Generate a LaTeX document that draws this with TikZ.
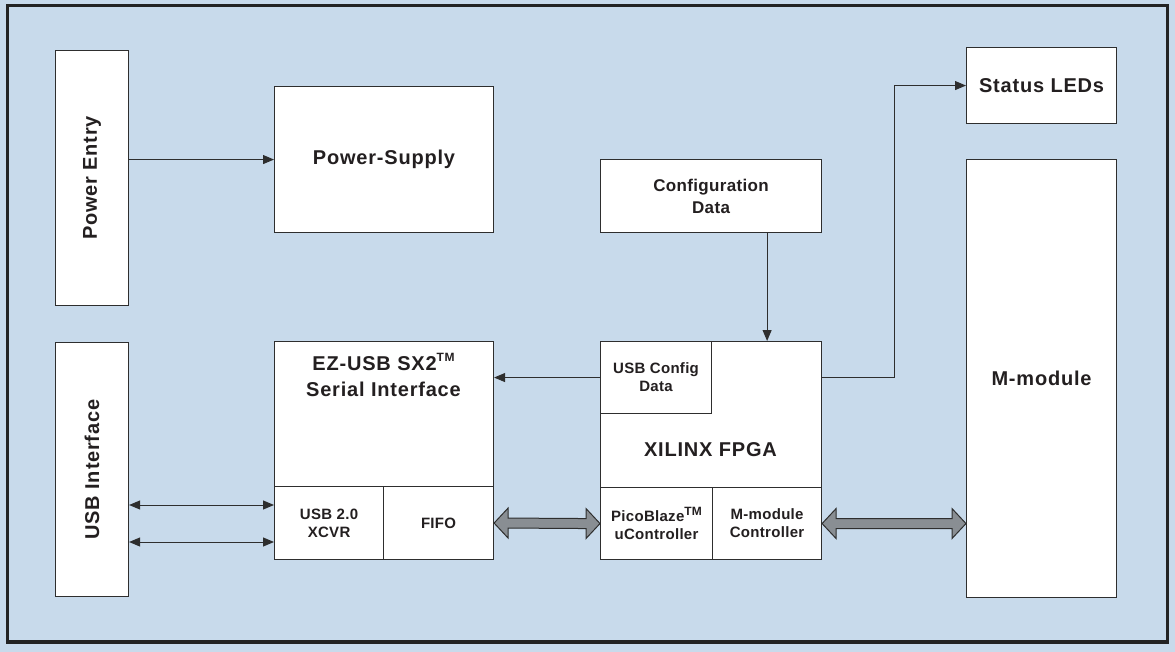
\documentclass[tikz,border=0pt]{standalone}
\usepackage{fontspec}
\setmainfont{Liberation Sans}
\newfontfamily\bigf[LetterSpace=4]{Liberation Sans}
\newfontfamily\smallf[LetterSpace=2]{Liberation Sans}
\usetikzlibrary{arrows.meta,calc}
\definecolor{bg}{HTML}{C8DAEB}
\definecolor{ln}{HTML}{2E2E2E}
\definecolor{frame}{HTML}{232323}
\definecolor{txt}{HTML}{231F20}
\definecolor{fatc}{HTML}{898E93}
\newcommand\tmsup{\raisebox{0.45em}{\fontsize{12}{12}\selectfont TM}}
\newcommand\fatarr[2]{%
  \draw[fatarrow] (#1) -- ($(#1)+(14,-15)$) -- ($(#1)+(14,-5)$) -- ($(#2)+(-14,-5)$) -- ($(#2)+(-14,-15)$) -- (#2)
   -- ($(#2)+(-14,15)$) -- ($(#2)+(-14,5)$) -- ($(#1)+(14,5)$) -- ($(#1)+(14,15)$) -- cycle;}
\begin{document}
\begin{tikzpicture}[x=1pt,y=-1pt,
  box/.style={draw=ln, line width=1.1pt, fill=white, inner sep=0pt, anchor=north west, text=txt, align=center},
  bigt/.style={font=\bigf\bfseries\fontsize{20}{26}\selectfont},
  midt/.style={font=\smallf\bfseries\fontsize{17}{22}\selectfont},
  smallt/.style={font=\smallf\bfseries\fontsize{15}{18}\selectfont},
  lab/.style={text=txt, inner sep=0pt, align=center},
  arr/.style={draw=ln, line width=1pt, -{Triangle[length=11pt,width=9pt]}},
  darr/.style={draw=ln, line width=1pt, {Triangle[length=11pt,width=9pt]}-{Triangle[length=11pt,width=9pt]}},
  fatarrow/.style={draw=ln, line width=1pt, fill=fatc, line join=miter}]
\fill[bg] (0,0) rectangle (1175,652);
\useasboundingbox (0,0) rectangle (1175,652);
\draw[draw=frame, line width=3.6pt] (7.5,5.5) rectangle (1167.5,642);

% left column
\node[box, minimum width=73pt, minimum height=255pt] (pe) at (55,50) {};
\node[lab, bigt, rotate=90] (pel) at (pe.center) {Power Entry};
\node[box, minimum width=73pt, minimum height=254pt] (usbi) at (55,342) {};
\node[lab, bigt, rotate=90] (usbil) at (usbi.center) {USB Interface};

% power supply
\node[box, bigt, minimum width=219pt, minimum height=146pt] (ps) at (274,86) {Power-Supply};

% EZ-USB
\node[box, minimum width=219pt, minimum height=218pt] (ez) at (274,341) {};
\node[lab, bigt] (ezl) at (383.5,375) {EZ-USB SX2\tmsup\\Serial Interface};
\node[box, smallt, minimum width=109pt, minimum height=73pt] (xcvr) at (274,486) {USB 2.0\\XCVR};
\node[box, smallt, minimum width=110pt, minimum height=73pt] (fifo) at (383,486) {FIFO};

% configuration data
\node[box, midt, minimum width=221pt, minimum height=73pt] (cfg) at (600,159) {Configuration\\Data};

% FPGA
\node[box, minimum width=221pt, minimum height=218pt] (fpga) at (600,341) {};
\node[box, smallt, minimum width=111pt, minimum height=72pt] (ucfg) at (600,341) {USB Config\\Data};
\node[lab, bigt] (fpgal) at (710.5,450) {XILINX FPGA};
\node[box, smallt, minimum width=112pt, minimum height=72pt] (pico) at (600,487) {PicoBlaze\tmsup\\uController};
\node[box, smallt, minimum width=109pt, minimum height=72pt] (mctl) at (712,487) {M-module\\Controller};

% right column
\node[box, bigt, minimum width=150pt, minimum height=76pt] (leds) at (966,47) {Status LEDs};
\node[box, bigt, minimum width=150pt, minimum height=438pt] (mm) at (966,159) {M-module};

% connectors
\draw[arr] (ps.west -| pe.east) -- (ps.west);
\coordinate (cfgx) at ($(ucfg.north east)!0.5!(fpga.north east)$);
\draw[arr] (cfg.south -| cfgx) -- (cfgx);
\draw[arr] (ucfg.west) -- (ucfg.west -| ez.east);
\draw[arr] (ucfg.east -| fpga.east) -- ++(72,0) |- (leds.west);
\coordinate (u1) at ($(xcvr.north west)+(0,19)$);
\coordinate (u2) at ($(xcvr.north west)+(0,56)$);
\draw[darr] (usbi.east |- u1) -- (u1);
\draw[darr] (usbi.east |- u2) -- (u2);
\fatarr{fifo.east}{pico.west}
\coordinate (mmin) at (mctl.east -| mm.west);
\fatarr{mctl.east}{mmin}
\end{tikzpicture}
\end{document}
